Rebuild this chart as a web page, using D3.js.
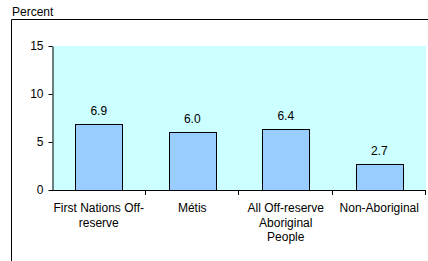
<!DOCTYPE html>
<html><head><meta charset="utf-8">
<script src="https://cdn.jsdelivr.net/npm/d3@7"></script>
<style>body{margin:0;background:#fff;}svg{display:block;font-family:Arial,"Liberation Sans",sans-serif;}</style>
</head><body>
<script>
const categories = ["First Nations Off-reserve", "Métis", "All Off-reserve Aboriginal People", "Non-Aboriginal"];
const categoryLines = [["First Nations Off-", "reserve"], ["Métis"], ["All Off-reserve", "Aboriginal", "People"], ["Non-Aboriginal"]];
const values = [6.9, 6.0, 6.4, 2.7];
const yTicks = [0, 5, 10, 15];
const yLabel = "Percent";

const W = 428, H = 261;
const FS = 12;
const svg = d3.select("body").append("svg").attr("width", W).attr("height", H);

// outer frame
svg.append("path").attr("d", `M11.5,${H} L11.5,19.5 L${W},19.5`).attr("fill","none").attr("stroke","#000").attr("stroke-width",1);
svg.append("text").attr("x",12).attr("y",16).attr("font-size",FS).attr("fill","#000").text(yLabel);

const L = 52, R = 426, T = 46, B = 190;
const x = d3.scaleBand().domain(categories).range([L, R]).paddingInner(0.5).paddingOuter(0.25);
const y = d3.scaleLinear().domain([0, 15]).range([B, T]);

svg.append("rect").attr("x", L).attr("y", T).attr("width", R - L).attr("height", B - T).attr("fill", "#CCFFFF");

svg.selectAll("rect.bar").data(values).enter().append("rect")
  .attr("class","bar")
  .attr("x", (d,i) => Math.round(x(categories[i])) + 0.5)
  .attr("y", d => Math.round(y(d)) + 0.5)
  .attr("width", Math.round(x.bandwidth()))
  .attr("height", d => B - Math.round(y(d)))
  .attr("fill", "#99CCFF").attr("stroke", "#000").attr("stroke-width", 1);

svg.selectAll("text.val").data(values).enter().append("text")
  .attr("class","val")
  .attr("x", (d,i) => x(categories[i]) + x.bandwidth()/2)
  .attr("y", d => y(d) - 9)
  .attr("text-anchor","middle").attr("font-size",FS).attr("fill","#000")
  .text(d => d.toFixed(1));

// y axis
const yAxis = svg.append("g").attr("transform", `translate(${L + 0.5},0)`)
  .call(d3.axisLeft(y).tickValues(yTicks).tickSize(4).tickSizeOuter(0).tickPadding(5));
yAxis.select(".domain").attr("stroke","#000");
yAxis.selectAll("line").attr("stroke","#000");
yAxis.selectAll("text").attr("font-size",FS).attr("fill","#000").attr("font-family","Arial,'Liberation Sans',sans-serif");

// x axis line and boundary ticks
svg.append("line").attr("x1", L).attr("x2", R).attr("y1", B + 0.5).attr("y2", B + 0.5).attr("stroke","#000");
const step = x.step();
const boundaries = categories.map((c,i) => L + step*(i+1));
svg.selectAll("line.xt").data(boundaries).enter().append("line")
  .attr("x1", d => Math.round(d) - 0.5).attr("x2", d => Math.round(d) - 0.5)
  .attr("y1", B).attr("y2", B + 5).attr("stroke","#000");

// category labels
categories.forEach((c,i) => {
  const t = svg.append("text").attr("text-anchor","middle").attr("font-size",FS).attr("fill","#000");
  categoryLines[i].forEach((ln,j) => {
    t.append("tspan").attr("x", x(c) + x.bandwidth()/2).attr("y", 212 + j*14.5).text(ln);
  });
});
</script>
</body></html>
